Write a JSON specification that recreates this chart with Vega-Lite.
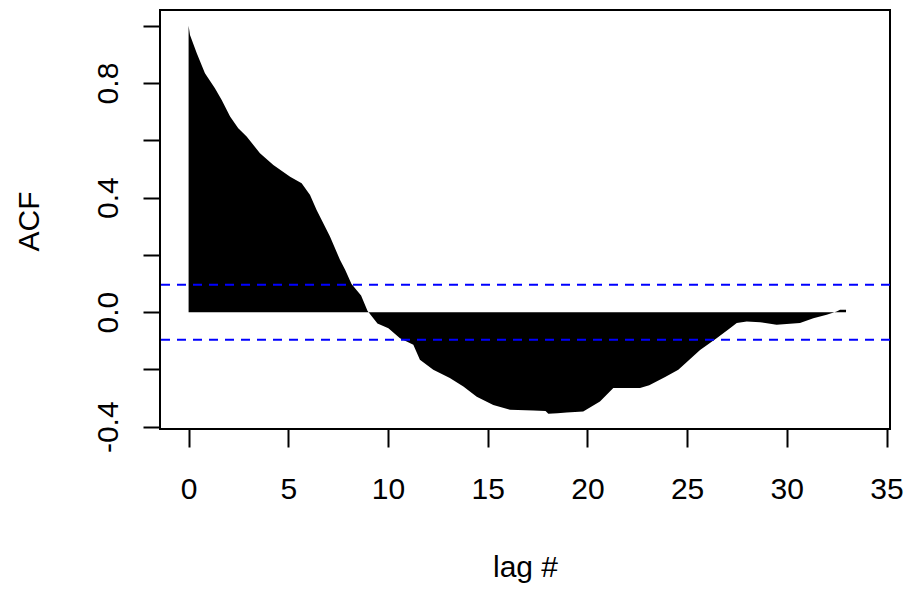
{
  "$schema": "https://vega.github.io/schema/vega-lite/v6.json",
  "autosize": {"type": "none"},
  "padding": {"left": 160, "top": 10, "right": 17, "bottom": 160},
  "width": 730,
  "height": 419,
  "background": "white",
  "config": {
    "font": "Liberation Sans",
    "view": {"stroke": "black", "strokeWidth": 2},
    "axis": {
      "grid": false,
      "domain": false,
      "ticks": true,
      "tickColor": "black",
      "tickWidth": 2,
      "labelColor": "black",
      "titleColor": "black",
      "labelFontSize": 30,
      "titleFontSize": 30,
      "titleFontWeight": "normal",
      "labelFont": "Liberation Sans",
      "titleFont": "Liberation Sans"
    }
  },
  "datasets": {
    "acf": [
      {"lag": 0, "acf": 1.0},
      {"lag": 0.07, "acf": 0.968},
      {"lag": 0.41, "acf": 0.904},
      {"lag": 0.82, "acf": 0.834},
      {"lag": 1.32, "acf": 0.782},
      {"lag": 1.66, "acf": 0.741},
      {"lag": 2.08, "acf": 0.683},
      {"lag": 2.49, "acf": 0.642},
      {"lag": 2.91, "acf": 0.613},
      {"lag": 3.58, "acf": 0.555},
      {"lag": 4.25, "acf": 0.514},
      {"lag": 5.09, "acf": 0.473},
      {"lag": 5.67, "acf": 0.45},
      {"lag": 6.09, "acf": 0.409},
      {"lag": 6.42, "acf": 0.357},
      {"lag": 7.09, "acf": 0.264},
      {"lag": 7.59, "acf": 0.183},
      {"lag": 7.85, "acf": 0.148},
      {"lag": 8.17, "acf": 0.098},
      {"lag": 8.65, "acf": 0.058},
      {"lag": 8.97, "acf": 0.005},
      {"lag": 9.47, "acf": -0.04},
      {"lag": 10.02, "acf": -0.056},
      {"lag": 10.6, "acf": -0.091},
      {"lag": 11.27, "acf": -0.114},
      {"lag": 11.6, "acf": -0.166},
      {"lag": 12.27, "acf": -0.201},
      {"lag": 13.1, "acf": -0.23},
      {"lag": 13.78, "acf": -0.26},
      {"lag": 14.45, "acf": -0.295},
      {"lag": 15.28, "acf": -0.324},
      {"lag": 16.12, "acf": -0.341},
      {"lag": 17.29, "acf": -0.343},
      {"lag": 17.9, "acf": -0.345},
      {"lag": 18.04, "acf": -0.355},
      {"lag": 18.5, "acf": -0.353},
      {"lag": 18.96, "acf": -0.35},
      {"lag": 19.79, "acf": -0.347},
      {"lag": 20.63, "acf": -0.312},
      {"lag": 21.3, "acf": -0.265},
      {"lag": 22.64, "acf": -0.265},
      {"lag": 23.1, "acf": -0.255},
      {"lag": 23.9, "acf": -0.226},
      {"lag": 24.56, "acf": -0.201},
      {"lag": 25.65, "acf": -0.132},
      {"lag": 26.48, "acf": -0.091},
      {"lag": 27.15, "acf": -0.056},
      {"lag": 27.49, "acf": -0.038},
      {"lag": 27.99, "acf": -0.033},
      {"lag": 28.66, "acf": -0.035},
      {"lag": 29.49, "acf": -0.044},
      {"lag": 30.66, "acf": -0.038},
      {"lag": 31.33, "acf": -0.021},
      {"lag": 32.0, "acf": -0.009},
      {"lag": 32.5, "acf": 0.002},
      {"lag": 32.67, "acf": 0.008},
      {"lag": 32.97, "acf": 0.008}
    ],
    "conf": [
      {"bound": 0.096},
      {"bound": -0.096}
    ]
  },
  "layer": [
    {
      "data": {"name": "acf"},
      "mark": {"type": "area", "color": "black", "interpolate": "linear"},
      "encoding": {
        "x": {
          "field": "lag",
          "type": "quantitative",
          "scale": {"domain": [-1.434, 35.175], "nice": false, "zero": false},
          "axis": {
            "values": [0, 5, 10, 15, 20, 25, 30, 35],
            "tickSize": 18,
            "labelPadding": 27,
            "title": "lag #",
            "titleX": 365,
            "titleY": 147,
            "titleAlign": "center",
            "titleBaseline": "alphabetic"
          }
        },
        "y": {
          "field": "acf",
          "type": "quantitative",
          "scale": {"domain": [-0.408, 1.055], "nice": false, "zero": false},
          "axis": {
            "values": [-0.4, -0.2, 0, 0.2, 0.4, 0.6, 0.8, 1.0],
            "labelExpr": "datum.value < -0.3 ? '-0.4' : (abs(datum.value) < 0.01 ? '0.0' : (abs(datum.value - 0.4) < 0.01 ? '0.4' : (abs(datum.value - 0.8) < 0.01 ? '0.8' : '')))",
            "tickSize": 17,
            "labelAngle": 270,
            "labelAlign": "center",
            "labelBaseline": "alphabetic",
            "labelPadding": 26,
            "title": "ACF",
            "titleAngle": 270,
            "titleX": -122,
            "titleY": 211,
            "titleAlign": "center",
            "titleBaseline": "alphabetic"
          }
        },
        "y2": {"datum": 0}
      }
    },
    {
      "mark": {"type": "rule", "color": "black", "strokeWidth": 1.5},
      "encoding": {"y": {"datum": 0}}
    },
    {
      "data": {"name": "conf"},
      "mark": {"type": "rule", "color": "#0000FF", "strokeWidth": 2, "strokeDash": [9, 7]},
      "encoding": {"y": {"field": "bound", "type": "quantitative"}}
    }
  ]
}
